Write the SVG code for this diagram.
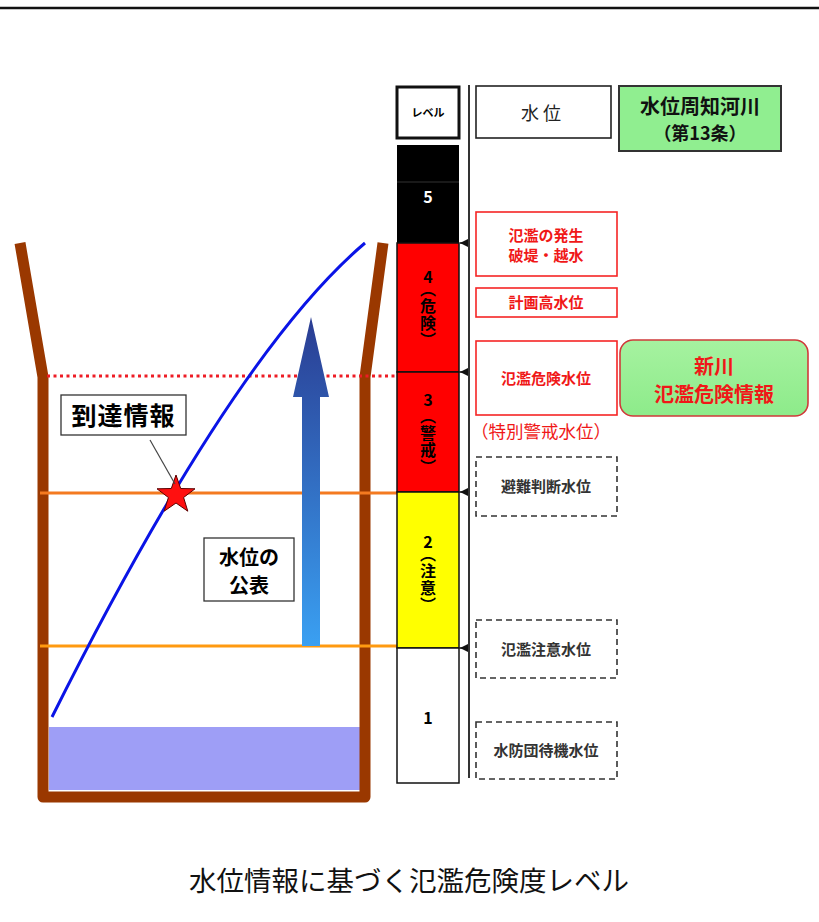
<svg xmlns="http://www.w3.org/2000/svg" width="819" height="922" viewBox="0 0 819 922">
<defs>
<style>
text{font-family:"Noto Sans CJK JP","Noto Sans",sans-serif;}
.b{font-weight:bold;}
.c{text-anchor:middle;}
.red{fill:#F01818;}
.rbox{fill:#fff;stroke:#F52525;stroke-width:1.6;}
.dbox{fill:#fff;stroke:#333;stroke-width:1.6;stroke-dasharray:6 4;}
.lvl{stroke:#111;stroke-width:1.5;}
.vt{writing-mode:vertical-rl;font-weight:bold;font-size:16px;letter-spacing:1px;}
.lc{font-weight:bold;font-size:16px;text-anchor:middle;}
.gray{fill:#333;}
.bt{font-size:15px;}
</style>
<linearGradient id="arrowGrad" x1="0" y1="0" x2="0" y2="1">
<stop offset="0" stop-color="#2A3C92"/>
<stop offset="1" stop-color="#3AA0F2"/>
</linearGradient>
<linearGradient id="greenGrad" x1="0" y1="0" x2="0" y2="1">
<stop offset="0" stop-color="#A6F2A0"/>
<stop offset="1" stop-color="#8DEB8A"/>
</linearGradient>
<marker id="ah" viewBox="0 0 10 10" refX="10" refY="5" markerWidth="8" markerHeight="8" orient="auto" markerUnits="userSpaceOnUse">
<path d="M0,0 L10,5 L0,10 z" fill="#111"/>
</marker>
</defs>
<rect x="0" y="0" width="819" height="922" fill="#fff"/>
<line x1="0" y1="8" x2="819" y2="8" stroke="#111" stroke-width="2.5"/>

<g id="river">
<rect x="49" y="727" width="311" height="63" fill="#9E9EF6"/>
<path d="M20,243 L43,377 L43,797 L365,797 L365,377 L383,243" fill="none" stroke="#9A3800" stroke-width="11" stroke-linejoin="round"/>
<line x1="47" y1="376" x2="397" y2="376" stroke="#EE1C25" stroke-width="3" stroke-dasharray="3 3.5"/>
<line x1="40" y1="493" x2="397" y2="493" stroke="#F47A20" stroke-width="3"/>
<line x1="40" y1="646" x2="397" y2="646" stroke="#FF9A10" stroke-width="3"/>
<path d="M52,717 Q233,355 365,243" fill="none" stroke="#0A14E6" stroke-width="3"/>
</g>

<g id="publish-arrow">
<polygon points="302,646 320,646 320,397 329,397 311,317 293,397 302,397" fill="url(#arrowGrad)"/>
</g>

<g id="arrival-info">
<rect x="61" y="395" width="125" height="40" fill="#fff" stroke="#333" stroke-width="1.3"/>
<text x="123.5" y="425" class="b c" font-size="25" letter-spacing="1">到達情報</text>
</g>

<g id="star">
<polygon points="176,475 180.7,488.5 195,488.8 183.6,497.5 187.8,511.2 176,503 164.2,511.2 168.4,497.5 157,488.8 171.3,488.5" fill="#FF1010" stroke="#5A0000" stroke-width="1"/>
</g>

<g id="water-level-publish">
<rect x="204" y="538" width="90" height="63" fill="#fff" stroke="#333" stroke-width="1.3"/>
<text x="249" y="565" class="b c" font-size="20">水位の</text>
<text x="249" y="593" class="b c" font-size="20">公表</text>
</g>

<g id="level-header">
<rect x="397" y="87" width="62" height="51" fill="#fff" stroke="#111" stroke-width="3"/>
<text x="428" y="117" class="b c" font-size="11">レベル</text>
</g>
<g id="level5">
<rect x="397" y="145" width="62" height="98" fill="#000"/>
<line x1="397" y1="182" x2="459" y2="182" stroke="#333" stroke-width="1"/>
<text x="428" y="203" class="lc" fill="#fff">5</text>
</g>
<g id="level4">
<rect x="397" y="243" width="62" height="129" fill="#FF0000" class="lvl"/>
<text x="428" y="283" class="lc">4</text>
<text x="428" y="281" class="vt">（危険）</text>
</g>
<g id="level3">
<rect x="397" y="372" width="62" height="120" fill="#FF0000" class="lvl"/>
<text x="428" y="406" class="lc">3</text>
<text x="428" y="408" class="vt">（警戒）</text>
</g>
<g id="level2">
<rect x="397" y="492" width="62" height="156" fill="#FFFF00" class="lvl"/>
<text x="428" y="548" class="lc">2</text>
<text x="428" y="546" class="vt">（注意）</text>
</g>
<g id="level1">
<rect x="397" y="648" width="62" height="135" fill="#fff" class="lvl"/>
<text x="428" y="724" class="lc">1</text>
</g>

<g id="connectors">
<line x1="469" y1="85" x2="469" y2="778" stroke="#333" stroke-width="2"/>
<line x1="468" y1="243" x2="460" y2="243" stroke="#111" stroke-width="1.5" marker-end="url(#ah)"/>
<line x1="468" y1="372" x2="460" y2="372" stroke="#111" stroke-width="1.5" marker-end="url(#ah)"/>
<line x1="468" y1="492" x2="460" y2="492" stroke="#111" stroke-width="1.5" marker-end="url(#ah)"/>
<line x1="468" y1="648" x2="460" y2="648" stroke="#111" stroke-width="1.5" marker-end="url(#ah)"/>
<line x1="150" y1="440" x2="175" y2="484" stroke="#444" stroke-width="1.2"/>
</g>

<g id="water-level-header">
<rect x="476" y="86" width="135" height="52" fill="#fff" stroke="#222" stroke-width="1.6"/>
<text x="543" y="120" class="c" font-size="18" letter-spacing="4" fill="#222">水位</text>
</g>
<g id="notified-river">
<rect x="619" y="86" width="162" height="65" fill="#90EE90" stroke="#333" stroke-width="2"/>
<text x="700" y="114" class="b c" font-size="20" fill="#111">水位周知河川</text>
<text x="700" y="140" class="b c" font-size="18" fill="#111">（第13条）</text>
</g>
<g id="flood-occur">
<rect x="476" y="212" width="141" height="64" class="rbox"/>
<text x="546" y="241" class="b c red bt">氾濫の発生</text>
<text x="546" y="261" class="b c red bt">破堤・越水</text>
</g>
<g id="plan-high">
<rect x="476" y="288" width="141" height="29" class="rbox"/>
<text x="546" y="308" class="b c red bt">計画高水位</text>
</g>
<g id="flood-danger">
<rect x="476" y="341" width="141" height="74" class="rbox"/>
<text x="546" y="384" class="b c red bt">氾濫危険水位</text>
<text x="541" y="438" class="c red" font-size="17.5">（特別警戒水位）</text>
</g>
<g id="shinkawa-info">
<rect x="620" y="340" width="188" height="76" rx="13" fill="url(#greenGrad)" stroke="#D03A3A" stroke-width="1.6"/>
<text x="714" y="374" class="b c red" font-size="20">新川</text>
<text x="714" y="402" class="b c red" font-size="20">氾濫危険情報</text>
</g>
<g id="evac-judge">
<rect x="476" y="457" width="141" height="59" class="dbox"/>
<text x="546" y="492" class="b c gray bt">避難判断水位</text>
</g>
<g id="flood-caution">
<rect x="476" y="620" width="141" height="58" class="dbox"/>
<text x="546" y="655" class="b c gray bt">氾濫注意水位</text>
</g>
<g id="standby">
<rect x="476" y="722" width="141" height="57" class="dbox"/>
<text x="546" y="756" class="b c gray bt">水防団待機水位</text>
</g>

<text x="409" y="891" class="c" font-size="27.5" fill="#111">水位情報に基づく氾濫危険度レベル</text>
</svg>
